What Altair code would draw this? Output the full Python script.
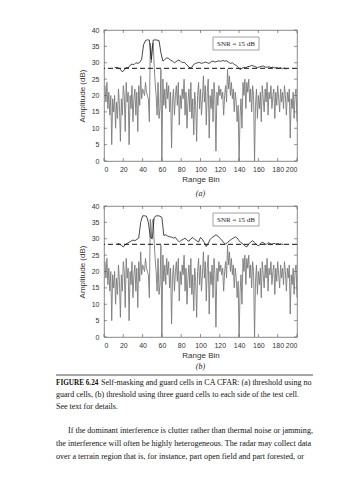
import altair as alt
import pandas as pd

# ---------------- data ----------------
bins = list(range(1, 201))
signal = [23, 18, 24, 16, 21, 14, 20, 5, 19, 15,
          20, 10, 18, 13, 22, 17, 6, 19, 14, 23,
          20, 9, 24, 18, 21, 5, 20, 16, 23, 12,
          19, 22, 14, 21, 9, 23, 17, 26, 19, 22,
          21, 20, 24, 21, 20, 19, 12, 36, 30, 35,
          36, 29, 24, 20, 14, 24, 13, 16, 28, 0,
          25, 17, 22, 16, 24, 19, 23, 15, 21, 4,
          18, 22, 14, 20, 23, 17, 24, 11, 20, 16,
          22, 19, 25, 14, 21, 10, 18, 22, 15, 24,
          13, 19, 8, 21, 17, 6, 20, 24, 16, 22,
          14, 19, 26, 18, 23, 11, 21, 25, 7, 20,
          16, 22, 12, 24, 19, 3, 21, 17, 23, 20,
          22, 19, 21, 14, 20, 23, 18, 28, 22, 26,
          20, 24, 19, 22, 15, 21, 18, 12, 17, 0,
          14, 19, 10, 24, 20, 25, 16, 24, 21, 25,
          18, 22, 15, 23, 20, 0, 17, 22, 13, 20,
          16, 21, 12, 23, 19, 15, 22, 18, 24, 14,
          21, 19, 23, 16, 20, 22, 13, 21, 17, 23,
          19, 15, 22, 18, 21, 16, 23, 20, 14, 21,
          18, 22, 7, 19, 16, 21, 13, 20, 22, 12]

thr_a_bins = list(range(11, 190, 2))
thr_a = [28.5, 28.6, 28.4, 28.0, 27.2, 27.8, 28.6, 28.4, 29.2, 29.6,
         29.4, 30.0, 29.8, 30.1, 31.0, 35.5, 36.8, 37.0, 36.9, 31.0,
         36.9, 37.0, 36.9, 36.8, 33.0, 30.5, 31.0, 31.5, 31.3, 30.8,
         30.5, 30.0, 30.4, 30.8, 30.6, 30.0, 30.2, 29.6, 29.0, 28.4,
         28.6, 29.5, 29.8, 30.0, 30.1, 29.8, 30.0, 30.2, 30.0, 29.8,
         30.3, 30.5, 30.2, 30.4, 30.6, 30.4, 30.7, 30.5, 30.6, 30.2,
         29.8, 30.0, 29.5, 29.2, 28.6, 27.9, 28.3, 28.6, 28.5, 28.8,
         28.9, 29.2, 29.0, 28.8, 28.5, 28.7, 28.9, 29.0, 28.7, 28.6,
         28.8, 28.5, 28.7, 28.4, 28.6, 28.3, 28.5, 28.2, 28.4, 28.0]

thr_b_bins = list(range(14, 187, 2))
thr_b = [28.6, 28.4, 28.0, 27.5, 28.2, 28.6, 28.9, 29.3, 29.6, 29.4,
         29.8, 30.2, 35.0, 37.0, 37.0, 36.9, 35.0, 30.5, 30.0, 36.5,
         37.0, 37.0, 36.9, 36.5, 31.0, 31.2, 30.8, 30.6, 30.5, 30.2,
         30.4, 29.6, 29.0, 29.5, 29.8, 30.2, 29.6, 29.2, 30.0, 30.4,
         29.8, 29.4, 29.0, 30.4, 29.8, 28.8, 27.6, 28.6, 29.8, 30.4,
         30.8, 31.2, 30.8, 30.2, 29.6, 28.8, 28.4, 28.8, 29.4, 29.8,
         30.2, 30.6, 30.2, 29.4, 28.8, 28.4, 27.8, 27.5, 28.4, 29.0,
         29.4, 28.8, 28.2, 27.8, 28.4, 29.0, 28.6, 28.2, 28.8, 28.5,
         28.3, 28.6, 28.4, 28.5, 28.3, 28.4, 28.2]

dashed_level = [28.3]
x_ticks = [0, 20, 40, 60, 80, 100, 120, 140, 160, 180, 200]
y_ticks = [0, 5, 10, 15, 20, 25, 30, 35, 40]

legend_text = "SNR = 15 dB"
caption_head = "FIGURE 6.24"
caption_lines = [
    "Self-masking and guard cells in CA CFAR: (a) threshold using no",
    "guard cells, (b) threshold using three guard cells to each side of the test cell.",
    "See text for details.",
]
para_lines = [
    "If the dominant interference is clutter rather than thermal noise or jamming,",
    "the interference will often be highly heterogeneous. The radar may collect data",
    "over a terrain region that is, for instance, part open field and part forested, or",
]

# ---------------- layout constants ----------------
W, H = 193, 131
GAP = 45
SANS = "Liberation Sans"
SERIF = "Liberation Serif"
TXT = "#333333"

sig_df = pd.DataFrame({"x": bins, "y": signal})
dash_df = pd.DataFrame({"y": dashed_level})
xt_df = pd.DataFrame({"x": x_ticks})
yt_df = pd.DataFrame({"y": y_ticks})
one = pd.DataFrame({"k": [0]})

xscale = alt.Scale(domain=[0, 200], nice=False, zero=False)
yscale = alt.Scale(domain=[0, 40], nice=False)

X = alt.X("x:Q", scale=xscale,
          axis=alt.Axis(values=x_ticks, title="Range Bin", ticks=False, domain=False,
                        grid=False, labelFontSize=7, labelColor=TXT, labelPadding=4,
                        titleFontSize=8, titleFontWeight="normal", titleColor=TXT,
                        titlePadding=3, labelFont=SANS, titleFont=SANS))
Y = alt.Y("y:Q", scale=yscale,
          axis=alt.Axis(values=y_ticks, title="Amplitude (dB)", ticks=False, domain=False,
                        grid=False, labelFontSize=7, labelColor=TXT, labelPadding=5,
                        titleFontSize=8, titleFontWeight="normal", titleColor=TXT,
                        titlePadding=5, labelFont=SANS, titleFont=SANS))


def panel(tb, tv, tag, tag_dy):
    thr_df = pd.DataFrame({"x": tb, "y": tv})
    sig = alt.Chart(sig_df).mark_line(color="#7a7a7a", strokeWidth=0.9).encode(x=X, y=Y)
    thr = alt.Chart(thr_df).mark_line(color="#1a1a1a", strokeWidth=0.8).encode(x=X, y=Y)
    dash = alt.Chart(dash_df).mark_rule(color="#111111", strokeWidth=1.0,
                                        strokeDash=[5, 3]).encode(y=Y)
    tb_ = alt.Chart(xt_df).mark_rule(color="#666666", strokeWidth=0.7).encode(
        x=X, y=alt.value(H), y2=alt.value(H - 3))
    tt_ = alt.Chart(xt_df).mark_rule(color="#666666", strokeWidth=0.7).encode(
        x=X, y=alt.value(0), y2=alt.value(3))
    tl_ = alt.Chart(yt_df).mark_rule(color="#666666", strokeWidth=0.7).encode(
        y=Y, x=alt.value(0), x2=alt.value(3))
    tr_ = alt.Chart(yt_df).mark_rule(color="#666666", strokeWidth=0.7).encode(
        y=Y, x=alt.value(W - 3), x2=alt.value(W))
    box = alt.Chart(one).mark_rect(fill="white", stroke="#8a8a8a", strokeWidth=0.8).encode(
        x=alt.value(109), x2=alt.value(155), y=alt.value(7), y2=alt.value(20))
    lab = alt.Chart(one).mark_text(font=SERIF, fontSize=7, color="#222222",
                                   baseline="middle", align="center").encode(
        x=alt.value(132), y=alt.value(13.5), text=alt.value(legend_text))
    sub = alt.Chart(one).mark_text(font=SERIF, fontSize=8, fontStyle="italic",
                                   color="#222222", baseline="middle",
                                   align="center").encode(
        x=alt.value(W / 2), y=alt.value(H + tag_dy), text=alt.value(tag))
    return alt.layer(sig, dash, thr, tb_, tt_, tl_, tr_, box, lab, sub).properties(
        width=W, height=H,
        view=alt.ViewBackground(stroke="#6a6a6a", strokeWidth=0.8, fill="white"))


top = panel(thr_a_bins, thr_a, "(a)", 33)
bottom = panel(thr_b_bins, thr_b, "(b)", 30)

# ---- caption & paragraph block (relative to block top = bottom plot + GAP) ----
L = -48
CAP = 8.0
PAR = 8.1
layers = [
    alt.Chart(one).mark_rule(color="#222222", strokeWidth=0.8).encode(
        x=alt.value(L), x2=alt.value(209), y=alt.value(-7)),
    alt.Chart(one).mark_text(font=SERIF, fontSize=7.2, fontWeight="bold", color="#111111",
                             align="left", baseline="middle").encode(
        x=alt.value(L), y=alt.value(1), text=alt.value(caption_head)),
    alt.Chart(one).mark_text(font=SERIF, fontSize=CAP, color="#111111",
                             align="left", baseline="middle").encode(
        x=alt.value(-3), y=alt.value(1), text=alt.value(caption_lines[0])),
    alt.Chart(one).mark_text(font=SERIF, fontSize=CAP, color="#111111",
                             align="left", baseline="middle").encode(
        x=alt.value(L), y=alt.value(13), text=alt.value(caption_lines[1])),
    alt.Chart(one).mark_text(font=SERIF, fontSize=CAP, color="#111111",
                             align="left", baseline="middle").encode(
        x=alt.value(L), y=alt.value(25), text=alt.value(caption_lines[2])),
    alt.Chart(one).mark_text(font=SERIF, fontSize=PAR, color="#111111",
                             align="left", baseline="middle").encode(
        x=alt.value(-36), y=alt.value(49), text=alt.value(para_lines[0])),
    alt.Chart(one).mark_text(font=SERIF, fontSize=PAR, color="#111111",
                             align="left", baseline="middle").encode(
        x=alt.value(L), y=alt.value(62), text=alt.value(para_lines[1])),
    alt.Chart(one).mark_text(font=SERIF, fontSize=PAR, color="#111111",
                             align="left", baseline="middle").encode(
        x=alt.value(L), y=alt.value(75), text=alt.value(para_lines[2])),
]
text_block = alt.layer(*layers).properties(
    width=W, height=80, view=alt.ViewBackground(stroke=None, fill=None))

chart = alt.vconcat(top, bottom, text_block, spacing=GAP, bounds="flush").properties(
    padding={"left": 55, "top": 25, "right": 0, "bottom": 0},
    background="white",
).configure_view(stroke=None).configure(font=SANS)

chart.save("out.html", embed_options={"renderer": "svg", "actions": False})
